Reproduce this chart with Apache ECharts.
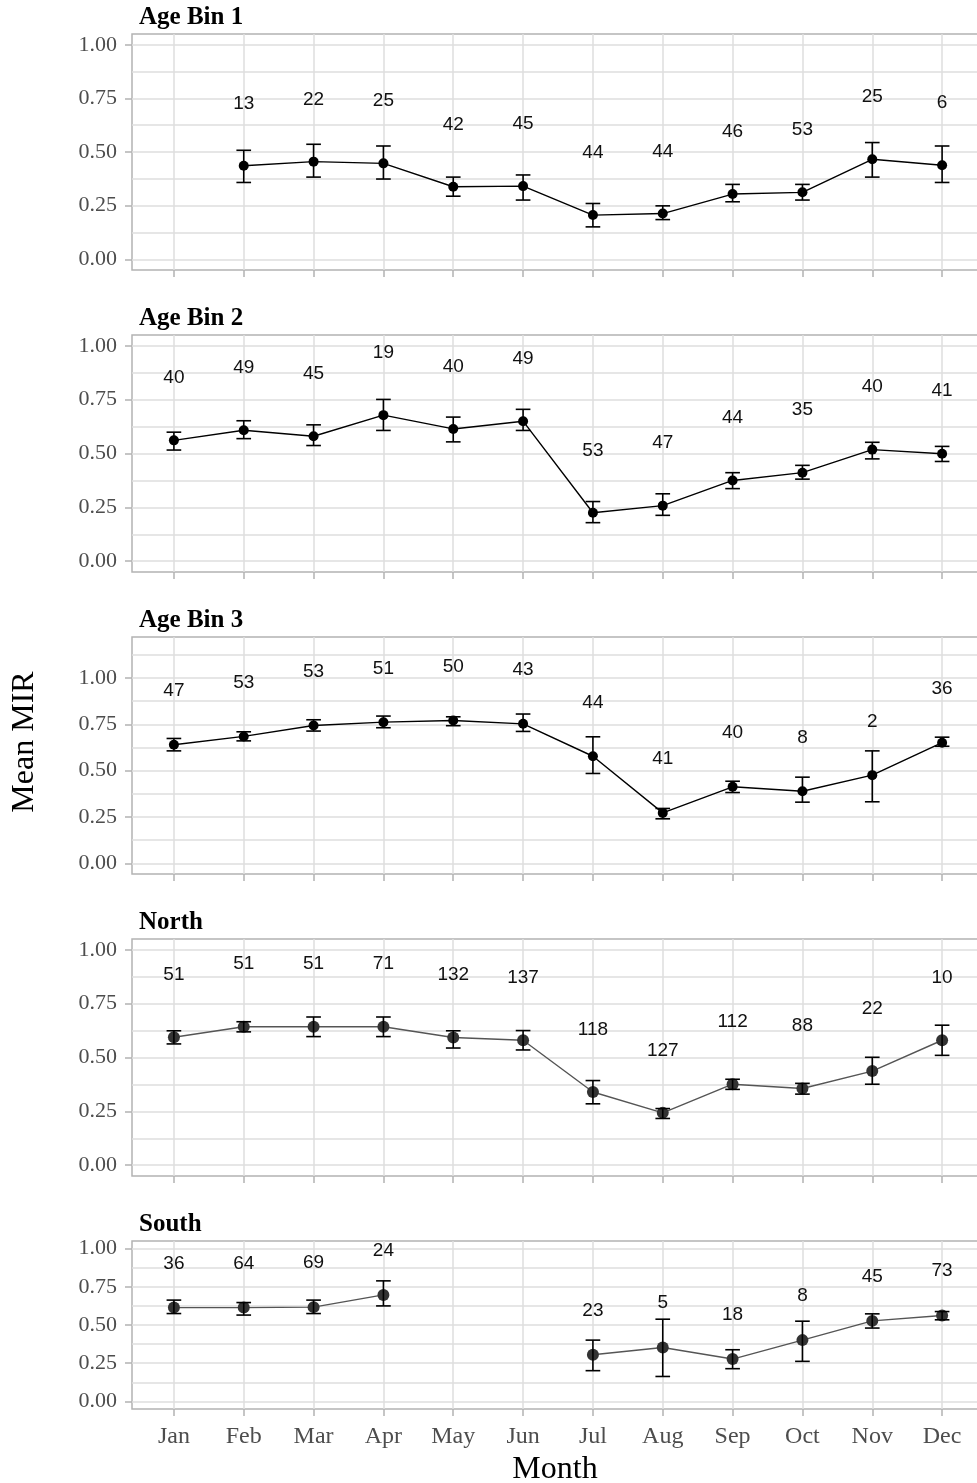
<!DOCTYPE html>
<html><head><meta charset="utf-8">
<script src="https://cdn.jsdelivr.net/npm/echarts@6/dist/echarts.min.js"></script>
<style>html,body{margin:0;padding:0;background:#fff}#c{width:977px;height:1483px}</style>
</head><body><div id="c"></div>
<script>
const months = ['Jan','Feb','Mar','Apr','May','Jun','Jul','Aug','Sep','Oct','Nov','Dec'];
const monthIdx = [1,2,3,4,5,6,7,8,9,10,11,12];
const yMajor = [0, 0.25, 0.5, 0.75, 1];
const yMinor = [0.125, 0.375, 0.625, 0.875];
const yMinorTall = [0.125, 0.375, 0.625, 0.875, 1.125];

const bin1Mean = [null, 0.436, 0.455, 0.447, 0.338, 0.341, 0.206, 0.213, 0.304, 0.312, 0.466, 0.438];
const bin1Lo   = [null, 0.358, 0.383, 0.374, 0.294, 0.276, 0.151, 0.185, 0.268, 0.276, 0.383, 0.358];
const bin1Hi   = [null, 0.508, 0.536, 0.528, 0.383, 0.393, 0.260, 0.249, 0.349, 0.349, 0.544, 0.528];
const bin1N    = [null, 13, 22, 25, 42, 45, 44, 44, 46, 53, 25, 6];

const bin2Mean = [0.561, 0.608, 0.580, 0.678, 0.614, 0.650, 0.225, 0.258, 0.375, 0.411, 0.518, 0.499];
const bin2Lo   = [0.516, 0.569, 0.537, 0.607, 0.554, 0.607, 0.179, 0.213, 0.337, 0.381, 0.475, 0.463];
const bin2Hi   = [0.599, 0.652, 0.633, 0.751, 0.669, 0.705, 0.277, 0.313, 0.411, 0.445, 0.552, 0.533];
const bin2N    = [40, 49, 45, 19, 40, 49, 53, 47, 44, 35, 40, 41];

const bin3Mean = [0.640, 0.685, 0.744, 0.762, 0.771, 0.753, 0.578, 0.272, 0.413, 0.389, 0.476, 0.651];
const bin3Lo   = [0.607, 0.661, 0.714, 0.732, 0.743, 0.712, 0.485, 0.240, 0.382, 0.330, 0.332, 0.632];
const bin3Hi   = [0.674, 0.710, 0.775, 0.795, 0.791, 0.806, 0.683, 0.296, 0.443, 0.465, 0.607, 0.681];
const bin3N    = [47, 53, 53, 51, 50, 43, 44, 41, 40, 8, 2, 36];

const northMean = [0.594, 0.643, 0.643, 0.643, 0.593, 0.580, 0.340, 0.243, 0.376, 0.356, 0.437, 0.580];
const northLo   = [0.563, 0.619, 0.597, 0.597, 0.544, 0.535, 0.285, 0.217, 0.352, 0.330, 0.376, 0.510];
const northHi   = [0.624, 0.666, 0.688, 0.688, 0.624, 0.625, 0.393, 0.263, 0.399, 0.380, 0.501, 0.650];
const northN    = [51, 51, 51, 71, 132, 137, 118, 127, 112, 88, 22, 10];

const southMean = [0.614, 0.614, 0.617, 0.697, null, null, 0.305, 0.353, 0.277, 0.401, 0.527, 0.562];
const southLo   = [0.575, 0.565, 0.575, 0.625, null, null, 0.201, 0.163, 0.214, 0.262, 0.480, 0.534];
const southHi   = [0.663, 0.647, 0.663, 0.789, null, null, 0.401, 0.538, 0.338, 0.525, 0.573, 0.588];
const southN    = [36, 64, 69, 24, null, null, 23, 5, 18, 8, 45, 73];

const LABEL_OFFSET = 0.29;
const CAP_WIDTH = 0.21;

const panels = [
  {title:'Age Bin 1', mean:bin1Mean, lo:bin1Lo, hi:bin1Hi, n:bin1N, top:34, height:236, ymin:-0.05, ymax:1.05, minors:yMinor, pointColor:'#000', lineColor:'#000', pointSize:10},
  {title:'Age Bin 2', mean:bin2Mean, lo:bin2Lo, hi:bin2Hi, n:bin2N, top:335, height:237, ymin:-0.05, ymax:1.05, minors:yMinor, pointColor:'#000', lineColor:'#000', pointSize:10},
  {title:'Age Bin 3', mean:bin3Mean, lo:bin3Lo, hi:bin3Hi, n:bin3N, top:637, height:237, ymin:-0.058, ymax:1.222, minors:yMinorTall, pointColor:'#000', lineColor:'#000', pointSize:10},
  {title:'North', mean:northMean, lo:northLo, hi:northHi, n:northN, top:939, height:237, ymin:-0.05, ymax:1.05, minors:yMinor, pointColor:'#333', lineColor:'#555', pointSize:12},
  {title:'South', mean:southMean, lo:southLo, hi:southHi, n:southN, top:1241, height:168, ymin:-0.05, ymax:1.05, minors:yMinor, pointColor:'#333', lineColor:'#555', pointSize:12}
];

const gridLine = {color:'#dedede', width:1.5};
const tickLine = {color:'#b3b3b3', width:1.5};
const serif = '"Liberation Serif", "Times New Roman", serif';

const grids = [], xAxes = [], yAxes = [], series = [], graphics = [];
panels.forEach((p, i) => {
  grids.push({left:132, width:852, top:p.top, height:p.height, show:true, borderColor:'#b3b3b3', borderWidth:1.5, backgroundColor:'rgba(0,0,0,0)', containLabel:false, outerBoundsMode:'none'});
  xAxes.push({type:'value', gridIndex:i, min:0.4, max:12.6,
    axisLine:{show:false, onZero:false},
    axisTick:{show:true, length:7, lineStyle:tickLine, customValues:monthIdx},
    axisLabel:{show:i===panels.length-1, customValues:monthIdx, formatter:v=>months[Math.round(v)-1],
      fontFamily:serif, fontSize:24, color:'#4d4d4d', margin:16},
    splitLine:{show:true, lineStyle:gridLine}});
  yAxes.push({type:'value', gridIndex:i, min:p.ymin, max:p.ymax,
    axisLine:{show:false, onZero:false},
    axisTick:{show:true, length:7, lineStyle:tickLine, customValues:yMajor},
    axisLabel:{customValues:yMajor, formatter:v=>v.toFixed(2), fontFamily:serif, fontSize:22, color:'#4d4d4d', margin:15},
    splitLine:{show:true, lineStyle:gridLine}});
  yAxes.push({type:'value', gridIndex:i, min:p.ymin, max:p.ymax,
    axisLine:{show:false, onZero:false},
    axisTick:{show:false, customValues:p.minors},
    axisLabel:{show:false, customValues:p.minors},
    splitLine:{show:true, lineStyle:gridLine}});

  const lineData = p.mean.map((m, k) => m == null ? [k+1, '-'] : [k+1, m]);
  const barData = [], labData = [];
  p.mean.forEach((m, k) => {
    if (m == null) return;
    barData.push([k+1, p.lo[k], p.hi[k]]);
    labData.push([k+1, m, p.n[k]]);
  });
  series.push({type:'line', xAxisIndex:i, yAxisIndex:2*i, data:lineData, z:2,
    symbol:'circle', symbolSize:p.pointSize, showSymbol:true, connectNulls:false,
    itemStyle:{color:p.pointColor}, lineStyle:{color:p.lineColor, width:1.4}, emphasis:{disabled:true}});
  series.push({type:'custom', xAxisIndex:i, yAxisIndex:2*i, coordinateSystem:'cartesian2d', z:3,
    data:barData, encode:{x:0, y:[1,2]},
    renderItem:(params, api) => {
      const x = api.value(0);
      const a = api.coord([x, api.value(1)]);
      const b = api.coord([x, api.value(2)]);
      const hw = api.size([CAP_WIDTH/2, 0])[0];
      const st = {stroke:'#000', lineWidth:1.6, fill:null};
      return {type:'group', children:[
        {type:'line', shape:{x1:a[0], y1:a[1], x2:b[0], y2:b[1]}, style:st},
        {type:'line', shape:{x1:a[0]-hw, y1:a[1], x2:a[0]+hw, y2:a[1]}, style:st},
        {type:'line', shape:{x1:b[0]-hw, y1:b[1], x2:b[0]+hw, y2:b[1]}, style:st}
      ]};
    }});
  series.push({type:'custom', xAxisIndex:i, yAxisIndex:2*i, coordinateSystem:'cartesian2d', z:4,
    data:labData, encode:{x:0, y:1},
    renderItem:(params, api) => {
      const c = api.coord([api.value(0), api.value(1) + LABEL_OFFSET]);
      return {type:'text', style:{text:String(api.value(2)), x:c[0], y:c[1],
        font:'19px "Liberation Sans", Arial, sans-serif', fill:'#111',
        textAlign:'center', textVerticalAlign:'middle', align:'center', verticalAlign:'middle'}};
    }});
  graphics.push({type:'text', x:139, y:p.top - 16, style:{text:p.title,
    font:'bold 25px ' + serif, fill:'#000', textAlign:'left', textVerticalAlign:'middle', align:'left', verticalAlign:'middle'}});
});
graphics.push({type:'text', x:25, y:742, rotation:Math.PI/2, style:{text:'Mean MIR',
  font:'32px ' + serif, fill:'#000', textAlign:'center', textVerticalAlign:'middle', align:'center', verticalAlign:'middle'}});
graphics.push({type:'text', x:555, y:1470, style:{text:'Month',
  font:'32px ' + serif, fill:'#000', textAlign:'center', textVerticalAlign:'middle', align:'center', verticalAlign:'middle'}});

const chart = echarts.init(document.getElementById('c'), null, {renderer:'canvas'});
chart.setOption({animation:false, backgroundColor:'#fff', grid:grids, xAxis:xAxes, yAxis:yAxes, series:series, graphic:graphics});
</script></body></html>
